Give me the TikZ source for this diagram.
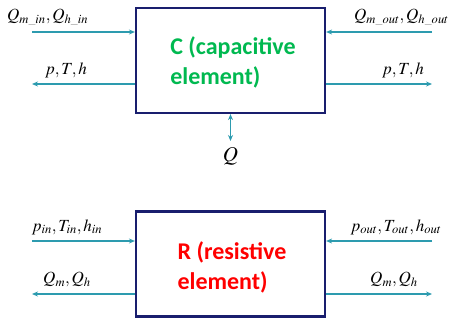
\documentclass[tikz,border=0pt]{standalone}
\usepackage{mathptmx}
\usepackage{fontspec}
\setsansfont{Carlito}
\usetikzlibrary{arrows.meta,positioning}
\definecolor{flowcol}{RGB}{45,155,175}
\definecolor{boxcol}{RGB}{25,30,110}
\definecolor{capgreen}{RGB}{0,185,80}
\definecolor{resred}{RGB}{255,0,0}
\newcommand{\usb}{\mbox{\fontsize{9}{9}\selectfont\_}}
\tikzset{
  elembox/.style={draw=boxcol,line width=2.2pt,fill=white,minimum width=189pt,minimum height=105pt},
  elemtext/.style={font=\sffamily\bfseries\fontsize{24}{30}\selectfont,align=left},
  flow/.style={flowcol,line width=1.3pt,-{Stealth[length=6pt,width=5pt]}},
  flowlbl/.style={font=\fontsize{17}{19}\selectfont,inner sep=1pt}
}
\begin{document}
\begin{tikzpicture}[x=1pt,y=-1pt]
\useasboundingbox (0,0) rectangle (457,323);
% capacitive element
\node[elembox] (C) at (230.5,60.5) {};
\node[elemtext,text=capgreen] (Ctxt) at (233,62) {C (capacitive\\element)};
\coordinate (Cinl) at (32,32);
\coordinate (Coutl) at (32,84);
\coordinate (Cinr) at (432,32);
\coordinate (Coutr) at (432,84);
\coordinate (Cheat) at (230.5,141);
\draw[flow] (Cinl) -- (Cinl -| C.west);
\draw[flow] (Coutl -| C.west) -- (Coutl);
\draw[flow] (Cinr) -- (Cinr -| C.east);
\draw[flow] (Coutr -| C.east) -- (Coutr);
\draw[flow,{Stealth[length=6pt,width=5pt]}-{Stealth[length=6pt,width=5pt]}] (C.south) -- (Cheat);
\node[flowlbl,anchor=south west] (lblCinl) at (6,26) {$Q_{m\usb in},Q_{h\usb in}$};
\node[flowlbl,anchor=south] (lblCoutl) at (66,79) {$p,T,h$};
\node[flowlbl,anchor=south west] (lblCinr) at (353,26) {$Q_{m\usb out},Q_{h\usb out}$};
\node[flowlbl,anchor=south] (lblCoutr) at (403,79) {$p,T,h$};
\node[flowlbl,font=\fontsize{21}{23}\selectfont,below=5pt of Cheat] (lblQ) {$Q$};
% resistive element
\node[elembox] (R) at (230.5,264) {};
\node[elemtext,text=resred] (Rtxt) at (232,267) {R (resistive\\element)};
\coordinate (Rinl) at (32,241);
\coordinate (Routl) at (32,294);
\coordinate (Rinr) at (432,241);
\coordinate (Routr) at (432,294);
\draw[flow] (Rinl) -- (Rinl -| R.west);
\draw[flow] (Routl -| R.west) -- (Routl);
\draw[flow] (Rinr) -- (Rinr -| R.east);
\draw[flow] (Routr -| R.east) -- (Routr);
\node[flowlbl,anchor=south] (lblRinl) at (67,236) {$p_{in},T_{in},h_{in}$};
\node[flowlbl,anchor=south] (lblRoutl) at (67,288) {$Q_m,Q_h$};
\node[flowlbl,anchor=south] (lblRinr) at (396,236) {$p_{out},T_{out},h_{out}$};
\node[flowlbl,anchor=south] (lblRoutr) at (394,288) {$Q_m,Q_h$};
\end{tikzpicture}
\end{document}
